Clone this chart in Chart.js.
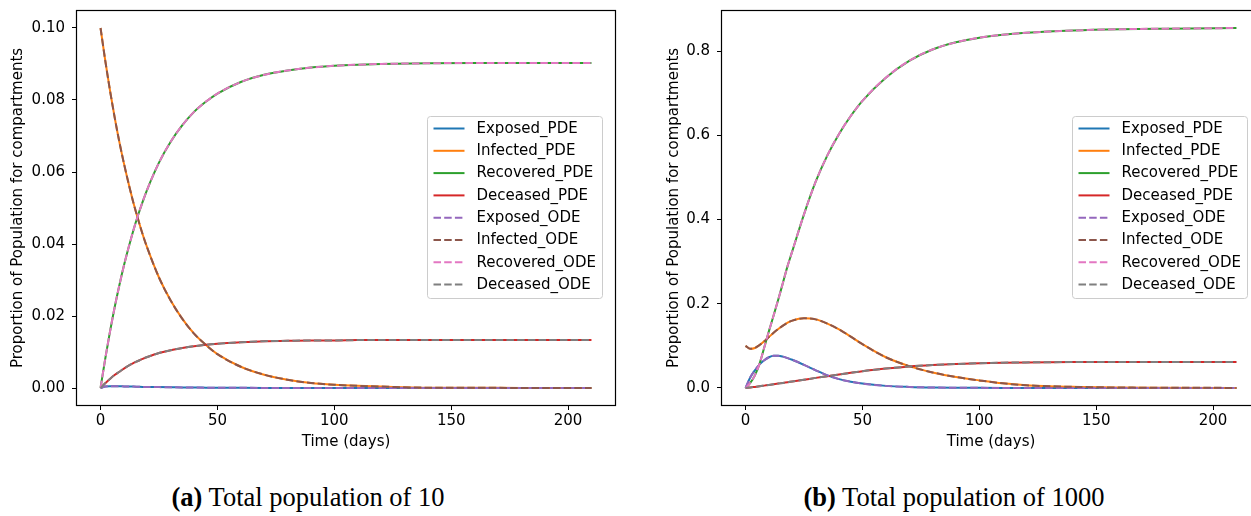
<!DOCTYPE html>
<html>
<head>
<meta charset="utf-8">
<script src="https://cdn.jsdelivr.net/npm/chart.js@4.4.0/dist/chart.umd.min.js"></script>
<style>
  html, body { margin: 0; padding: 0; background: #fff; overflow: hidden; }
  #page { position: relative; width: 1251px; height: 516px; overflow: hidden; }
  .panel { position: absolute; top: 0; width: 630px; height: 460px; }
  .caption {
    position: absolute; top: 482px; transform: translateX(-50%);
    font-family: "Liberation Serif", "Times New Roman", serif;
    font-size: 26.5px; line-height: 30px; white-space: nowrap; color: #000;
  }
</style>
</head>
<body>
<div id="page">
  <div class="panel" style="left:0"><canvas id="chartA" width="630" height="460"></canvas></div>
  <div class="panel" style="left:645px"><canvas id="chartB" width="630" height="460"></canvas></div>
  <div class="caption" style="left:308px"><b>(a)</b> Total population of 10</div>
  <div class="caption" style="left:954px"><b>(b)</b> Total population of 1000</div>
</div>
<script>
// sample times (days)
const days = [0, 2, 4, 6, 8, 10, 12, 14, 16, 18, 20, 25, 30, 35, 40, 45, 50, 60, 70, 80, 90, 100, 110, 120, 140, 160, 180, 210];

// total population 10
const exposed10 = [0, 0.0004, 0.0005, 0.0005, 0.0005, 0.00045, 0.0004, 0.0004, 0.00035, 0.0003, 0.0003, 0.00025, 0.0002, 0.00015, 0.00012, 0.0001, 0.00008, 0.00005, 0.00003, 0.00002, 0.00001, 0, 0, 0, 0, 0, 0, 0];
const infected10 = [0.1000, 0.0910, 0.0828, 0.0753, 0.0685, 0.0624, 0.0568, 0.0516, 0.0470, 0.0427, 0.0389, 0.0307, 0.0243, 0.0192, 0.0151, 0.0120, 0.0094, 0.0059, 0.0037, 0.0023, 0.0014, 0.0009, 0.0006, 0.0004, 0.0001, 0.0001, 0, 0];
const recovered10 = [0, 0.0081, 0.0155, 0.0223, 0.0284, 0.0340, 0.0390, 0.0437, 0.0479, 0.0517, 0.0552, 0.0626, 0.0684, 0.0730, 0.0767, 0.0795, 0.0818, 0.0850, 0.0870, 0.0882, 0.0890, 0.0895, 0.0898, 0.0900, 0.0902, 0.0903, 0.0903, 0.0903];
const deceased10 = [0, 0.0013, 0.0025, 0.0036, 0.0045, 0.0054, 0.0062, 0.0069, 0.0075, 0.0081, 0.0086, 0.0097, 0.0105, 0.0111, 0.0116, 0.0120, 0.0123, 0.0127, 0.0130, 0.0131, 0.0132, 0.0132, 0.0133, 0.0133, 0.0133, 0.0133, 0.0133, 0.0133];

// total population 1000
const exposed1000 = [0, 0.025, 0.042, 0.056, 0.066, 0.073, 0.0765, 0.0765, 0.0745, 0.071, 0.067, 0.055, 0.042, 0.030, 0.021, 0.015, 0.0105, 0.005, 0.0025, 0.0012, 0.0006, 0.0003, 0.0002, 0.0001, 0.00003, 0, 0, 0];
const infected1000 = [0.100, 0.093, 0.095, 0.102, 0.111, 0.121, 0.131, 0.140, 0.148, 0.155, 0.160, 0.1655, 0.163, 0.153, 0.139, 0.122, 0.104, 0.073, 0.052, 0.037, 0.026, 0.018, 0.011, 0.0065, 0.0027, 0.0011, 0.0005, 0.0002];
const recovered1000 = [0, 0.012, 0.030, 0.058, 0.096, 0.135, 0.172, 0.210, 0.250, 0.290, 0.325, 0.4125, 0.490, 0.5525, 0.6035, 0.646, 0.682, 0.737, 0.777, 0.804, 0.821, 0.832, 0.839, 0.8435, 0.849, 0.852, 0.8535, 0.855];
const deceased1000 = [0, 0.0012, 0.0026, 0.004, 0.0056, 0.0072, 0.0088, 0.0104, 0.012, 0.0137, 0.0153, 0.0195, 0.024, 0.028, 0.032, 0.036, 0.040, 0.046, 0.051, 0.0545, 0.0570, 0.0588, 0.0600, 0.0608, 0.0616, 0.0619, 0.0620, 0.0620];

// tick values
const xTicks = [0, 50, 100, 150, 200];
const yTicks10 = [0, 0.02, 0.04, 0.06, 0.08, 0.10];
const yTicks1000 = [0, 0.2, 0.4, 0.6, 0.8];

const seriesNames = ['Exposed_PDE', 'Infected_PDE', 'Recovered_PDE', 'Deceased_PDE',
                     'Exposed_ODE', 'Infected_ODE', 'Recovered_ODE', 'Deceased_ODE'];
const seriesColors = ['#1f77b4', '#ff7f0e', '#2ca02c', '#d62728',
                      '#9467bd', '#8c564b', '#e377c2', '#7f7f7f'];

const FONT = 'DejaVu Sans';
const FONT_SIZE = 15;
const DASH = [7.5, 3.2];

function points(values) {
    return days.map((d, i) => ({ x: d, y: values[i] }));
}

// PDE solid, ODE dashed on top (the two solutions overlap)
function buildDatasets(pde, ode) {
    const all = pde.concat(ode);
    return all.map((vals, i) => ({
        label: seriesNames[i],
        data: points(vals),
        borderColor: seriesColors[i],
        backgroundColor: seriesColors[i],
        borderWidth: 2,
        borderDash: i >= 4 ? DASH : [],
        pointRadius: 0,
        cubicInterpolationMode: 'monotone',
        fill: false,
        order: all.length - i
    }));
}

// full box around the plot area
const framePlugin = {
    id: 'frame',
    afterDraw(chart) {
        const { ctx, chartArea: a } = chart;
        ctx.save();
        ctx.strokeStyle = '#000';
        ctx.lineWidth = 1.2;
        ctx.strokeRect(Math.round(a.left) + 0.5, Math.round(a.top) + 0.5,
                       Math.round(a.right - a.left) - 1, Math.round(a.bottom - a.top) - 1);
        ctx.restore();
    }
};

// matplotlib-style legend box inside the plot
const boxLegend = {
    id: 'boxLegend',
    afterDraw(chart) {
        const { ctx, chartArea: a } = chart;
        const sets = chart.data.datasets;
        ctx.save();
        ctx.font = FONT_SIZE + 'px "' + FONT + '"';
        const textW = Math.max(...sets.map(d => ctx.measureText(d.label).width));
        const left = Math.round(a.left + 351) + 0.5;
        const top = 116.5;
        const rowH = 22.3;
        const w = Math.round(49 + textW + 7);
        const h = Math.round(12 + rowH * (sets.length - 1) + 14);

        ctx.beginPath();
        ctx.roundRect(left, top, w, h, 3);
        ctx.fillStyle = 'rgba(255,255,255,0.8)';
        ctx.fill();
        ctx.strokeStyle = '#cccccc';
        ctx.lineWidth = 1;
        ctx.stroke();

        ctx.textBaseline = 'middle';
        ctx.textAlign = 'left';
        sets.forEach((d, i) => {
            const y = top + 12 + i * rowH;
            ctx.beginPath();
            ctx.setLineDash(d.borderDash || []);
            ctx.strokeStyle = d.borderColor;
            ctx.lineWidth = 2;
            ctx.moveTo(left + 6, y);
            ctx.lineTo(left + 37, y);
            ctx.stroke();
            ctx.setLineDash([]);
            ctx.fillStyle = '#000';
            ctx.fillText(d.label, left + 49, y + 0.5);
        });
        ctx.restore();
    }
};

function makeOptions(yMin, yMax, yTicks, decimals, titlePad) {
    const font = { family: FONT, size: FONT_SIZE };
    return {
        responsive: false,
        animation: false,
        devicePixelRatio: 1,
        layout: { padding: { top: 10, right: 14, bottom: 0, left: 0 } },
        plugins: { legend: { display: false }, tooltip: { enabled: false } },
        scales: {
            x: {
                type: 'linear',
                min: -10.5,
                max: 220.5,
                afterBuildTicks: s => { s.ticks = xTicks.map(v => ({ value: v })); },
                afterFit: s => { s.height = 54; s.paddingLeft = 0; s.paddingRight = 0; },
                ticks: { color: '#000', font, padding: 2, maxRotation: 0, autoSkip: false,
                         callback: v => String(v) },
                grid: { display: true, drawOnChartArea: false, drawTicks: true,
                        tickLength: 4, tickWidth: 1, color: '#000' },
                border: { display: false },
                title: { display: true, text: 'Time (days)', color: '#000', font,
                         padding: { top: 0, bottom: 9 } }
            },
            y: {
                type: 'linear',
                min: yMin,
                max: yMax,
                afterBuildTicks: s => { s.ticks = yTicks.map(v => ({ value: v })); },
                afterFit: s => { s.width = 76; s.paddingTop = 0; s.paddingBottom = 0; },
                ticks: { color: '#000', font, padding: 7, autoSkip: false,
                         callback: v => Number(v).toFixed(decimals) },
                grid: { display: true, drawOnChartArea: false, drawTicks: true,
                        tickLength: 4, tickWidth: 1, color: '#000' },
                border: { display: false },
                title: { display: true, text: 'Proportion of Population for compartments',
                         color: '#000', font, padding: { top: titlePad, bottom: 0 } }
            }
        }
    };
}

new Chart(document.getElementById('chartA'), {
    type: 'line',
    data: { datasets: buildDatasets([exposed10, infected10, recovered10, deceased10],
                                    [exposed10, infected10, recovered10, deceased10]) },
    options: makeOptions(-0.005, 0.105, yTicks10, 2, 9),
    plugins: [framePlugin, boxLegend]
});

new Chart(document.getElementById('chartB'), {
    type: 'line',
    data: { datasets: buildDatasets([exposed1000, infected1000, recovered1000, deceased1000],
                                    [exposed1000, infected1000, recovered1000, deceased1000]) },
    options: makeOptions(-0.0428, 0.8978, yTicks1000, 1, 20),
    plugins: [framePlugin, boxLegend]
});
</script>
</body>
</html>
